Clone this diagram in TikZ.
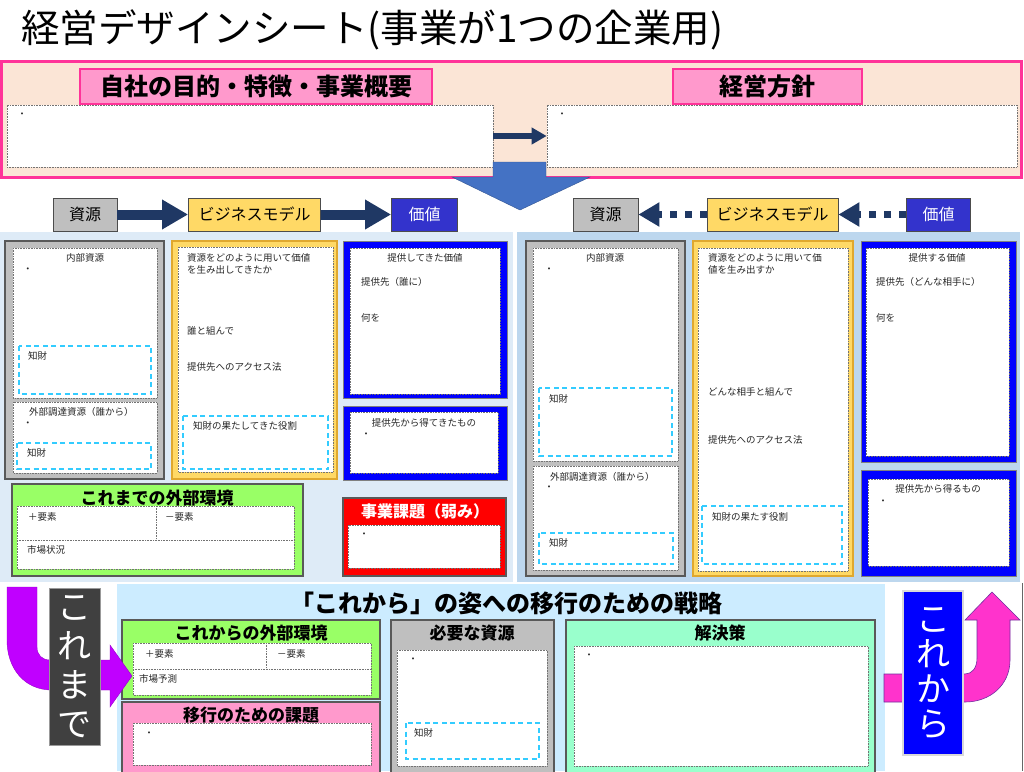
\documentclass[tikz,border=0pt]{standalone}
\usepackage{fontspec}
\setmainfont{Noto Sans CJK JP}
\usepackage{tikz}
\usepackage{xcolor}
\usetikzlibrary{arrows.meta}
\definecolor{Peach}{HTML}{FBE5D6}
\definecolor{Rose}{HTML}{FF3399}
\definecolor{Pinkish}{HTML}{FF99CC}
\definecolor{Navy}{HTML}{1F3864}
\definecolor{SteelBlue}{HTML}{4472C4}
\definecolor{Ash}{HTML}{BFBFBF}
\definecolor{Butter}{HTML}{FFD966}
\definecolor{ButterLine}{HTML}{E0A82E}
\definecolor{Indigo}{HTML}{3333CC}
\definecolor{PureBlue}{HTML}{0000FF}
\definecolor{PastBg}{HTML}{DEEBF7}
\definecolor{FutureBg}{HTML}{BDD7EE}
\definecolor{Lime}{HTML}{99FF66}
\definecolor{Mint}{HTML}{99FFCC}
\definecolor{Sky}{HTML}{CCECFF}
\definecolor{Charcoal}{HTML}{404040}
\definecolor{Violet}{HTML}{C000FF}
\definecolor{HotPink}{HTML}{FF33CC}
\definecolor{Plum}{HTML}{7030A0}
\definecolor{IPLine}{HTML}{33CCFF}
\definecolor{Scarlet}{HTML}{FF0000}

\begin{document}
\begin{tikzpicture}[x=1pt,y=-1pt,
  sheet/.style={draw=black!55,densely dotted,fill=white,line width=0.6pt},
  ipbox/.style={draw=IPLine,line width=1.3pt,dash pattern=on 5pt off 3.5pt},
  small/.style={inner sep=0pt,font=\fontsize{9.5}{12}\selectfont,text=black!85},
  head/.style={inner sep=0pt,font=\fontsize{17}{20}\selectfont\bfseries},
  banner/.style={draw=Rose,fill=Pinkish,line width=2pt,minimum height=35,inner sep=0pt,font=\fontsize{24}{26}\selectfont\bfseries},
  tag/.style={draw=black!70,line width=0.8pt,minimum height=33,inner sep=0pt,font=\fontsize{16}{18}\selectfont},
  card/.style={draw=black!65,line width=1.2pt},
  flow/.style={Navy,line width=10pt,-{Triangle[length=26pt,width=28pt]}},
  backflow/.style={Navy,line width=7pt,dash pattern=on 7pt off 8pt,-{Triangle[length=21pt,width=23pt]}}]
  \useasboundingbox (0,0) rectangle (1024,771);
  \clip (0,0) rectangle (1024,771);
  \fill[white] (0,0) rectangle (1024,771);

  % title
  \node[anchor=west,inner sep=0pt,font=\fontsize{38.5}{40}\selectfont] (title) at (21,30) {経営デザインシート(事業が1つの企業用)};

  % purpose and policy
  \draw[Rose,fill=Peach,line width=3pt] (1.5,61) rectangle (1021,177);
  \node[banner,minimum width=352] (aimTag) at (256,86) {自社の目的・特徴・事業概要};
  \node[banner,minimum width=189] (policyTag) at (767.5,86) {経営方針};
  \node[sheet,minimum width=486,minimum height=62] (aimBox) at (250,136) {};
  \node[sheet,minimum width=470,minimum height=62] (policyBox) at (782,136) {};
  \node[small] (aimDot) at (22,115) {・};
  \node[small] (policyDot) at (562,115) {・};
  \draw[Navy,line width=6pt,-{Triangle[length=15pt,width=16pt]}] (aimBox) -- (policyBox);
  \draw[SteelBlue!75!black,fill=SteelBlue] (493,162) -- (546,162) -- (546,177) -- (590,177) -- (520,210) -- (452,177) -- (493,177) -- cycle;

  % resource -> model -> value
  \node[tag,fill=Ash,minimum width=64] (resPast) at (85,214.5) {資源};
  \node[tag,fill=Butter,minimum width=132] (bmPast) at (254.5,214.5) {ビジネスモデル};
  \node[tag,fill=Indigo,text=white,minimum width=66] (valPast) at (424.5,214.5) {価値};
  \draw[flow] (resPast) -- (bmPast);
  \draw[flow] (bmPast) -- (valPast);
  \node[tag,fill=Ash,minimum width=65] (resNext) at (605.5,214.5) {資源};
  \node[tag,fill=Butter,minimum width=131] (bmNext) at (772.5,214.5) {ビジネスモデル};
  \node[tag,fill=Indigo,text=white,minimum width=64] (valNext) at (938.5,214.5) {価値};
  \draw[backflow] (bmNext) -- (resNext);
  \draw[backflow] (valNext) -- (bmNext);

  % panels
  \fill[PastBg] (0,232) rectangle (513,582);
  \fill[FutureBg] (517,232) rectangle (1020,582);

  % past: resources
  \draw[card,fill=Ash] (5,241) rectangle (164,479);
  \draw[sheet] (13,248) rectangle (157,398);
  \node[small] (inPast) at (85,258) {内部資源};
  \node[small] (inPastDot) at (28,270) {・};
  \draw[ipbox] (19,346) rectangle (151,394);
  \node[small,anchor=west] (ipPastA) at (28,356) {知財};
  \draw[sheet] (13,402) rectangle (157,473);
  \node[small,anchor=west] (outPast) at (29,412) {外部調達資源（誰から）};
  \node[small] (outPastDot) at (28,424) {・};
  \draw[ipbox] (17,443) rectangle (151,469);
  \node[small,anchor=west] (ipPastB) at (27,453) {知財};

  % past: model
  \draw[card,draw=ButterLine,fill=Butter] (172,241) rectangle (337,479);
  \draw[sheet] (178,247) rectangle (333,472);
  \node[small,anchor=west,align=left] (howPast) at (187,264) {資源をどのように用いて価値\\を生み出してきたか};
  \node[small,anchor=west] (partPast) at (187,331) {誰と組んで};
  \node[small,anchor=west] (accPast) at (187,367) {提供先へのアクセス法};
  \draw[ipbox] (183,416) rectangle (328,469);
  \node[small,anchor=west] (ipRolePast) at (193,426) {知財の果たしてきた役割};

  % past: value
  \draw[draw=black!50,line width=0.6pt,fill=PureBlue] (343,241) rectangle (507,398);
  \draw[sheet] (350,248) rectangle (500,394);
  \node[small] (valTitlePast) at (425,258) {提供してきた価値};
  \node[small,anchor=west] (whoPast) at (361,282) {提供先（誰に）};
  \node[small,anchor=west] (whatPast) at (361,318) {何を};
  \draw[draw=black!50,line width=0.6pt,fill=PureBlue] (343,406) rectangle (507,480);
  \draw[sheet] (350,412) rectangle (498,473);
  \node[small] (gainPast) at (424,423) {提供先から得てきたもの};
  \node[small] (gainPastDot) at (366,435) {・};

  % past: environment and issue
  \draw[card,fill=Lime] (12,484) rectangle (303,576);
  \draw[sheet] (17,506) rectangle (294,569);
  \draw[black!55,densely dotted,line width=0.6pt] (17,540) -- (294,540) (156,506) -- (156,540);
  \node[head] (envPast) at (157,498) {これまでの外部環境};
  \node[small,anchor=west] (plusPast) at (28,517) {＋要素};
  \node[small,anchor=west] (minusPast) at (165,517) {－要素};
  \node[small,anchor=west] (marketPast) at (27,550) {市場状況};
  \draw[card,fill=Scarlet] (343,498) rectangle (506,576);
  \node[head,text=white,font=\fontsize{16}{18}\selectfont\bfseries] (issue) at (425,511) {事業課題（弱み）};
  \draw[sheet] (348,525) rectangle (500,568);
  \node[small] (issueDot) at (364,535) {・};

  % next: resources
  \draw[card,fill=Ash] (526,241) rectangle (685,576);
  \draw[sheet] (533,248) rectangle (678,461);
  \node[small] (inNext) at (605,258) {内部資源};
  \node[small] (inNextDot) at (549,270) {・};
  \draw[ipbox] (539,388) rectangle (672,456);
  \node[small,anchor=west] (ipNextA) at (549,399) {知財};
  \draw[sheet] (533,466) rectangle (678,570);
  \node[small,anchor=west] (outNext) at (550,477) {外部調達資源（誰から）};
  \node[small] (outNextDot) at (549,488) {・};
  \draw[ipbox] (539,533) rectangle (673,564);
  \node[small,anchor=west] (ipNextB) at (549,543) {知財};

  % next: model
  \draw[card,draw=ButterLine,fill=Butter] (693,241) rectangle (853,576);
  \draw[sheet] (698,248) rectangle (848,571);
  \node[small,anchor=west,align=left] (howNext) at (708,264) {資源をどのように用いて価\\値を生み出すか};
  \node[small,anchor=west] (partNext) at (708,392) {どんな相手と組んで};
  \node[small,anchor=west] (accNext) at (708,440) {提供先へのアクセス法};
  \draw[ipbox] (702,506) rectangle (842,564);
  \node[small,anchor=west] (ipRoleNext) at (712,517) {知財の果たす役割};

  % next: value
  \draw[draw=black!50,line width=0.6pt,fill=PureBlue] (861,241) rectangle (1016,462);
  \draw[sheet] (866,248) rectangle (1009,456);
  \node[small] (valTitleNext) at (937,258) {提供する価値};
  \node[small,anchor=west] (whoNext) at (876,282) {提供先（どんな相手に）};
  \node[small,anchor=west] (whatNext) at (876,318) {何を};
  \draw[draw=black!50,line width=0.6pt,fill=PureBlue] (861,470) rectangle (1016,576);
  \draw[sheet] (868,479) rectangle (1009,566);
  \node[small] (gainNext) at (938,489) {提供先から得るもの};
  \node[small] (gainNextDot) at (883,502) {・};

  % strategy
  \fill[Sky] (117,584) rectangle (885,771);
  \node[inner sep=0pt,font=\fontsize{24}{26}\selectfont\bfseries] (shift) at (506,603) {「これから」の姿への移行のための戦略};
  \draw[card,fill=Lime] (122,620) rectangle (380,699);
  \draw[sheet] (133,643) rectangle (371,695);
  \draw[black!55,densely dotted,line width=0.6pt] (133,669) -- (371,669) (266,643) -- (266,669);
  \node[head] (envNext) at (251,633) {これからの外部環境};
  \node[small,anchor=west] (plusNext) at (145,654) {＋要素};
  \node[small,anchor=west] (minusNext) at (277,654) {－要素};
  \node[small,anchor=west] (marketNext) at (139,679) {市場予測};
  \draw[card,fill=Pinkish] (122,702) rectangle (380,780);
  \draw[sheet] (133,723) rectangle (371,765);
  \node[head] (gap) at (251,715) {移行のための課題};
  \node[small] (gapDot) at (149,734) {・};
  \draw[card,fill=Ash] (391,620) rectangle (554,780);
  \node[head] (need) at (472,633) {必要な資源};
  \draw[sheet] (397,650) rectangle (547,766);
  \node[small] (needDot) at (413,660) {・};
  \draw[ipbox] (406,723) rectangle (539,759);
  \node[small,anchor=west] (ipNeed) at (414,733) {知財};
  \draw[card,fill=Mint] (566,620) rectangle (875,780);
  \node[head] (solve) at (720,633) {解決策};
  \draw[sheet] (574,646) rectangle (868,766);
  \node[small] (solveDot) at (589,656) {・};

  % until now / from now
  \draw[Violet!80!black,line width=0.4pt,fill=Violet] (7,587) -- (7,640) .. controls (7,668) and (24,690) .. (52,690) -- (110,690) -- (110,707) -- (132,676) -- (110,645) -- (110,660) -- (50,660) .. controls (42,660) and (37,655) .. (37,647) -- (37,587) -- cycle;
  \node[fill=Charcoal,draw=black!40,line width=1pt,minimum width=51,minimum height=157,inner sep=0pt,align=center,text=white,font=\fontsize{34}{39}\selectfont] (pastTag) at (74.5,666.5) {こ\\れ\\ま\\で};
  \draw[Plum,line width=0.6pt,fill=HotPink] (884,674) -- (965,674) .. controls (972,674) and (977,668) .. (977,658) -- (977,620) -- (965,620) -- (992,592) -- (1020,620) -- (1010,620) -- (1010,660) .. controls (1010,685) and (990,702) .. (965,702) -- (884,702) -- cycle;
  \node[fill=PureBlue,draw=black!15,line width=1.5pt,minimum width=60,minimum height=164,inner sep=0pt,align=center,text=white,font=\fontsize{34}{35}\selectfont] (nextTag) at (933,673) {こ\\れ\\か\\ら};
  \draw[black!60,line width=0.8pt] (1022,583) -- (1022,771);
\end{tikzpicture}
\end{document}
